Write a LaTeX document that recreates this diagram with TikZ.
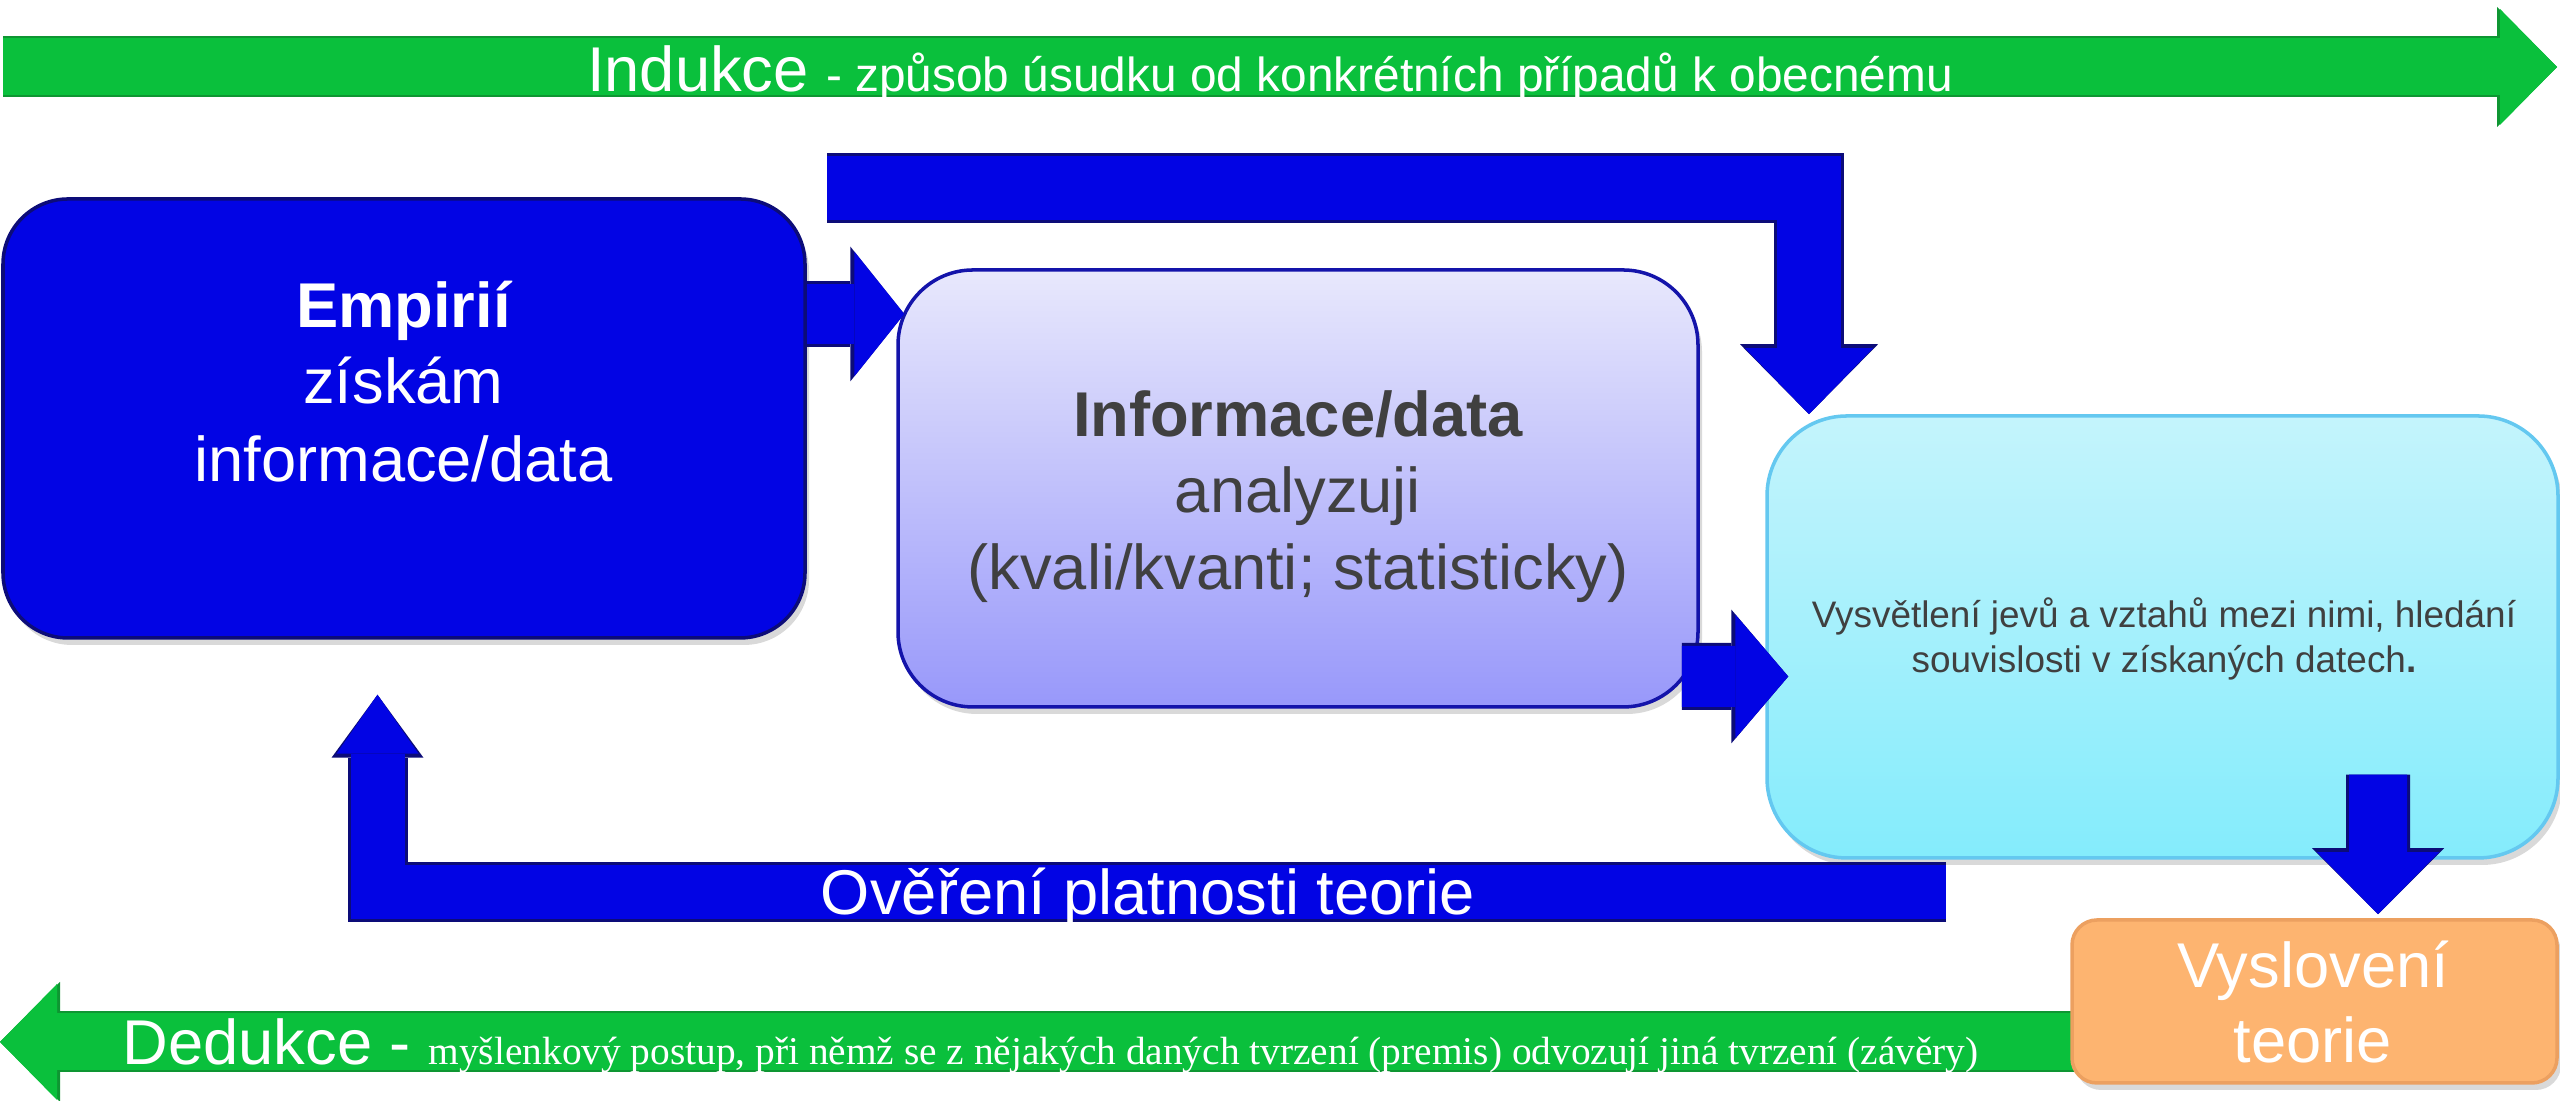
\documentclass[tikz,border=0pt]{standalone}
\usepackage{fontspec}
\setmainfont{Liberation Sans}
\newfontfamily\czserif{Liberation Serif}
\usetikzlibrary{arrows.meta, shadows}

\definecolor{empblue}{RGB}{2,4,228}
\definecolor{navyedge}{RGB}{12,12,120}
\definecolor{arrowgreen}{RGB}{10,192,60}
\definecolor{greenedge}{RGB}{14,150,50}
\definecolor{infotop}{RGB}{232,232,252}
\definecolor{infobottom}{RGB}{152,152,250}
\definecolor{infoedge}{RGB}{20,20,170}
\definecolor{vystop}{RGB}{196,244,252}
\definecolor{vysbottom}{RGB}{132,236,252}
\definecolor{vysedge}{RGB}{100,200,240}
\definecolor{teoriefill}{RGB}{253,180,112}
\definecolor{teorieedge}{RGB}{236,160,96}
\definecolor{darktext}{RGB}{64,64,64}

\tikzset{
    every node/.style={inner sep=0pt, font=\fontsize{18}{22}\selectfont},
    boxshadow/.style={drop shadow={shadow xshift=0.04cm, shadow yshift=-0.07cm, opacity=0.3}},
    empbox/.style={rectangle, rounded corners=0.65cm, fill=empblue, draw=navyedge,
        line width=1pt, minimum width=8.02cm, minimum height=4.39cm, boxshadow},
    infobox/.style={rectangle, rounded corners=0.75cm, top color=infotop,
        bottom color=infobottom, draw=infoedge, line width=1pt,
        minimum width=8.0cm, minimum height=4.37cm, boxshadow},
    vysbox/.style={rectangle, rounded corners=0.8cm, top color=vystop,
        bottom color=vysbottom, draw=vysedge, line width=1pt,
        minimum width=7.91cm, minimum height=4.42cm, boxshadow},
    teoriebox/.style={rectangle, rounded corners=0.25cm, fill=teoriefill,
        draw=teorieedge, line width=1pt, minimum width=4.85cm,
        minimum height=1.63cm, boxshadow},
    whiteline/.style={anchor=base, text=white},
    grayline/.style={anchor=base, text=darktext},
    bluearrow/.style n args={3}{draw=empblue, line width=#1-0.06cm,
        -{Triangle[width=#2-0.1cm, length=#3-0.04cm, line width=0pt]},
        preaction={draw=navyedge, line width=#1,
            -{Triangle[width=#2, length=#3, line width=0pt]}}},
    greenarrow/.style={draw=arrowgreen, line width=0.57cm,
        -{Triangle[width=1.16cm, length=0.57cm, line width=0pt]},
        preaction={draw=greenedge, line width=0.61cm,
            -{Triangle[width=1.2cm, length=0.6cm, line width=0pt]}}}
}

\begin{document}
\begin{tikzpicture}
	\useasboundingbox (0cm, 0cm) rectangle (25.6cm, 11.01cm);

	\coordinate (indL) at (0.03cm, 10.34cm);
	\coordinate (indR) at (25.57cm, 10.34cm);
	\coordinate (dedR) at (20.75cm, 0.59cm);
	\coordinate (dedL) at (0cm, 0.59cm);
	\draw [greenarrow] (indL) -- (indR);
	\draw [greenarrow] (dedR) -- (dedL);
	\node (ind) [whiteline] at (12.70cm, 10.09cm) {Indukce {\fontsize{13.6}{16}\selectfont - způsob úsudku od konkrétních případů k obecnému}};
	\node (ded) [whiteline, anchor=base west] at (1.22cm, 0.36cm) {Dedukce - {\czserif\fontsize{11.2}{13}\selectfont myšlenkový postup, při němž se z nějakých daných tvrzení (premis) odvozují jiná tvrzení (závěry)}};

	\node (emp) [empbox] at (4.04cm, 6.825cm) {};
	\node (info) [infobox] at (12.98cm, 6.125cm) {};
	\node (vys) [vysbox] at (21.625cm, 4.64cm) {};
	\node (teorie) [teoriebox] at (23.145cm, 0.995cm) {};

	\node (emp1) [whiteline, font=\fontsize{18}{22}\selectfont\bfseries] at (4.035cm, 7.73cm) {Empirií};
	\node (emp2) [whiteline] at (4.035cm, 6.97cm) {získám};
	\node (emp3) [whiteline] at (4.035cm, 6.19cm) {informace/data};

	\node (info1) [grayline, font=\fontsize{18}{22}\selectfont\bfseries] at (12.98cm, 6.64cm) {Informace/data};
	\node (info2) [grayline] at (12.98cm, 5.88cm) {analyzuji};
	\node (info3) [grayline] at (12.98cm, 5.11cm) {(kvali/kvanti; statisticky)};

	\node (vys1) [grayline, font=\fontsize{10.5}{13}\selectfont] at (21.64cm, 4.73cm) {Vysvětlení jevů a vztahů mezi nimi, hledání};
	\node (vys2) [grayline, font=\fontsize{10.5}{13}\selectfont] at (21.64cm, 4.28cm) {souvislosti v získaných datech\textbf{.}};

	\node (teorie1) [whiteline] at (23.13cm, 1.13cm) {Vyslovení};
	\node (teorie2) [whiteline] at (23.13cm, 0.38cm) {teorie};

	\coordinate (topstart) at (8.27cm, 9.13cm);
	\coordinate (topbend) at (18.09cm, 9.13cm);
	\coordinate (backstart) at (19.46cm, 2.085cm);
	\draw [bluearrow={0.7cm}{1.38cm}{0.7cm}] (topstart) -- (topbend) -- (topbend |- vys.north);
	\draw [bluearrow={0.66cm}{1.35cm}{0.54cm}] ([yshift=1.045cm]emp.east) -- ([xshift=0.08cm, yshift=1.745cm]info.west);
	\draw [bluearrow={0.67cm}{1.34cm}{0.57cm}] ([xshift=-0.18cm, yshift=-1.88cm]info.east) -- ([xshift=0.23cm, yshift=-0.395cm]vys.west);
	\draw [bluearrow={0.64cm}{1.32cm}{0.66cm}] ([xshift=2.155cm, yshift=0.85cm]vys.south) -- ([xshift=0.635cm, yshift=0.04cm]teorie.north);
	\draw [bluearrow={0.6cm}{0.92cm}{0.63cm}] (backstart) -| ([xshift=-0.265cm, yshift=-0.55cm]emp.south);
	\node (back) [whiteline] at (11.48cm, 1.86cm) {Ověření platnosti teorie};
\end{tikzpicture}
\end{document}
